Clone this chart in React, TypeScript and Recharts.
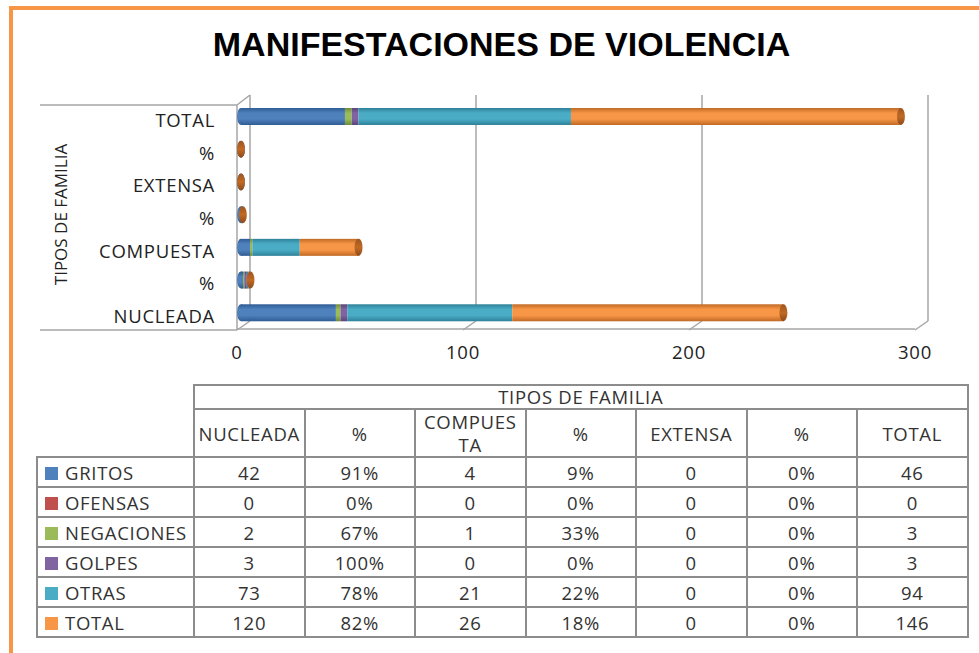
import React from 'react';
import { BarChart, Bar, XAxis, YAxis, CartesianGrid } from 'recharts';

// rows of the source table (and categories of the chart), bottom to top in the chart
const familyTypes = ['NUCLEADA', '%', 'COMPUESTA', '%', 'EXTENSA', '%', 'TOTAL'];
const isPercentCol = [false, true, false, true, false, true, false];
const seriesNames = ['GRITOS', 'OFENSAS', 'NEGACIONES', 'GOLPES', 'OTRAS', 'TOTAL'];

const gritos = [42, 0.91, 4, 0.09, 0, 0, 46];
const ofensas = [0, 0, 0, 0, 0, 0, 0];
const negaciones = [2, 0.67, 1, 0.33, 0, 0, 3];
const golpes = [3, 1, 0, 0, 0, 0, 3];
const otras = [73, 0.78, 21, 0.22, 0, 0, 94];
const total = [120, 0.82, 26, 0.18, 0, 0, 146];

const xTicks = [0, 100, 200, 300];

const seriesValues = [gritos, ofensas, negaciones, golpes, otras, total];
const colors = ['#4F81BD', '#C0504D', '#9BBB59', '#8064A2', '#4BACC6', '#F79646'];
const darks = ['#2F5C94', '#8E3532', '#6F8C3A', '#5A4478', '#2E8299', '#C06A25'];

// top of the chart shows TOTAL, so reverse
const chartData = familyTypes
  .map((name, i) => {
    const row: any = { name };
    seriesNames.forEach((s, k) => (row[s] = seriesValues[k][i]));
    return row;
  })
  .reverse();

const FONT = '"Open Sans", "DejaVu Sans", sans-serif';
const FS = 18.5;
const LS = 0.7;
const GRID = '#a6a6a6';
const DX = 13; // depth of the 3D walls
const DY = 9;

const wallLine = (props: any) => {
  const { x1, y1, y2, index } = props;
  const bx = x1 + DX;
  const top = y1 - 5;
  const bottom = y2 + 1 - DY;
  return (
    <g key={`wall-${index}`}>
      <line x1={bx} y1={top} x2={bx} y2={bottom} stroke={GRID} strokeWidth={1.5} />
      <line x1={bx} y1={bottom} x2={x1} y2={y2 + 1} stroke={GRID} strokeWidth={1.5} />
      {index === 0 && (
        <g>
          <line x1={x1} y1={y1 + 5} x2={x1} y2={y2 + 1} stroke={GRID} strokeWidth={1.5} />
          <line x1={x1} y1={y1 + 5} x2={bx} y2={top} stroke={GRID} strokeWidth={1.5} />
          <line x1={x1 - 197} y1={y1 + 5} x2={x1} y2={y1 + 5} stroke={GRID} strokeWidth={1.5} />
          <line x1={x1 - 197} y1={y2 + 1} x2={x1} y2={y2 + 1} stroke={GRID} strokeWidth={1.5} />
        </g>
      )}
    </g>
  );
};

const makeShape = (s: number) => (props: any) => {
  const { x, y, width, height } = props;
  const x0 = x + 4;
  const cy = y + height / 2;
  const w = Math.max(0, width);
  return (
    <g>
      {s === 0 && <ellipse cx={x0} cy={cy} rx={4} ry={height / 2} fill={`url(#cyl${s})`} />}
      {w > 0 && <rect x={x0} y={y} width={w} height={height} fill={`url(#cyl${s})`} />}
      {s === seriesNames.length - 1 && (
        <ellipse cx={x0 + w} cy={cy} rx={4} ry={height / 2} fill="url(#cap)" />
      )}
    </g>
  );
};

const YLabel = (props: any) => {
  const { viewBox } = props;
  const cx = viewBox.x + 20;
  const cy = viewBox.y + viewBox.height / 2;
  return (
    <text
      x={cx}
      y={cy}
      transform={`rotate(-90 ${cx} ${cy})`}
      textAnchor="middle"
      dominantBaseline="central"
      fontFamily={FONT}
      fontSize={17}
      fill="#222"
    >
      TIPOS DE FAMILIA
    </text>
  );
};

const fmt = (v: number, pct: boolean) => (pct ? `${Math.round(v * 100)}%` : `${v}`);

const cellBorder = '2px solid #8c8c8c';
const td: React.CSSProperties = {
  border: cellBorder,
  textAlign: 'center',
  padding: 0,
  fontFamily: FONT,
  fontSize: FS,
  letterSpacing: LS,
  color: '#333',
  whiteSpace: 'nowrap',
  overflow: 'hidden',
};

const tickStyle = { fontFamily: FONT, fontSize: FS, fill: '#222', letterSpacing: LS };

const App: React.FC = () => (
  <div
    style={{
      position: 'absolute',
      left: 0,
      top: 0,
      width: 979,
      height: 653,
      overflow: 'hidden',
      background: '#fff',
    }}
  >
    <div
      style={{
        position: 'absolute',
        left: 9,
        top: 6,
        width: 1100,
        height: 800,
        borderTop: '4px solid #F79646',
        borderLeft: '4px solid #F79646',
      }}
    />
    <div
      style={{
        position: 'absolute',
        left: 0,
        width: 1003,
        top: 25,
        textAlign: 'center',
        fontFamily: '"Liberation Sans Narrow", "Liberation Sans", sans-serif',
        fontWeight: 'bold',
        fontSize: 34,
        color: '#000',
      }}
    >
      MANIFESTACIONES DE VIOLENCIA
    </div>
    <div style={{ position: 'absolute', left: 0, top: 0 }}>
      <BarChart
        width={979}
        height={380}
        data={chartData}
        layout="vertical"
        margin={{ top: 100, right: 64, bottom: 0, left: 40 }}
        barSize={17}
      >
        <defs>
          {colors.map((c, i) => (
            <linearGradient key={c} id={`cyl${i}`} x1="0" y1="0" x2="0" y2="1">
              <stop offset="0%" stopColor={darks[i]} />
              <stop offset="30%" stopColor={c} />
              <stop offset="65%" stopColor={c} />
              <stop offset="100%" stopColor={darks[i]} />
            </linearGradient>
          ))}
          <linearGradient id="cap" x1="0" y1="0" x2="0" y2="1">
            <stop offset="0%" stopColor="#9E5520" />
            <stop offset="50%" stopColor="#C06A25" />
            <stop offset="100%" stopColor="#8E4A1A" />
          </linearGradient>
        </defs>
        <CartesianGrid horizontal={false} vertical={wallLine} />
        <XAxis
          type="number"
          domain={[0, 300]}
          ticks={xTicks}
          height={51}
          axisLine={{ stroke: GRID, strokeWidth: 1.5 }}
          tickLine={false}
          tickSize={0}
          tickMargin={17}
          tick={tickStyle}
        />
        <YAxis
          type="category"
          dataKey="name"
          width={197}
          axisLine={false}
          tickLine={false}
          tickSize={0}
          tickMargin={22}
          tick={{ ...tickStyle, dy: 4 }}
          interval={0}
          label={{ content: YLabel }}
        />
        {seriesNames.map((s, k) => (
          <Bar
            key={s}
            dataKey={s}
            stackId="a"
            fill={colors[k]}
            shape={makeShape(k)}
            isAnimationActive={false}
          />
        ))}
      </BarChart>
    </div>
    <table
      style={{
        position: 'absolute',
        left: 36,
        top: 384,
        borderCollapse: 'collapse',
        tableLayout: 'fixed',
        width: 931,
      }}
    >
      <colgroup>
        <col style={{ width: 157 }} />
        {familyTypes.map((_, i) => (
          <col key={i} style={{ width: 110.5 }} />
        ))}
      </colgroup>
      <tbody>
        <tr style={{ height: 24 }}>
          <td rowSpan={2} style={{ border: 'none' }} />
          <td colSpan={7} style={{ ...td, lineHeight: '20px' }}>
            TIPOS DE FAMILIA
          </td>
        </tr>
        <tr style={{ height: 47 }}>
          {familyTypes.map((f, i) => (
            <td key={i} style={{ ...td, lineHeight: '23px' }}>
              {f === 'COMPUESTA' ? (
                <>
                  COMPUES
                  <br />
                  TA
                </>
              ) : (
                f
              )}
            </td>
          ))}
        </tr>
        {seriesNames.map((s, k) => (
          <tr key={s} style={{ height: 30 }}>
            <td style={{ ...td, textAlign: 'left', paddingLeft: 7 }}>
              <span
                style={{
                  display: 'inline-block',
                  width: 13,
                  height: 13,
                  background: colors[k],
                  marginRight: 7,
                }}
              />
              {s}
            </td>
            {seriesValues[k].map((v, i) => (
              <td key={i} style={td}>
                {fmt(v, isPercentCol[i])}
              </td>
            ))}
          </tr>
        ))}
      </tbody>
    </table>
  </div>
);

export default App;
